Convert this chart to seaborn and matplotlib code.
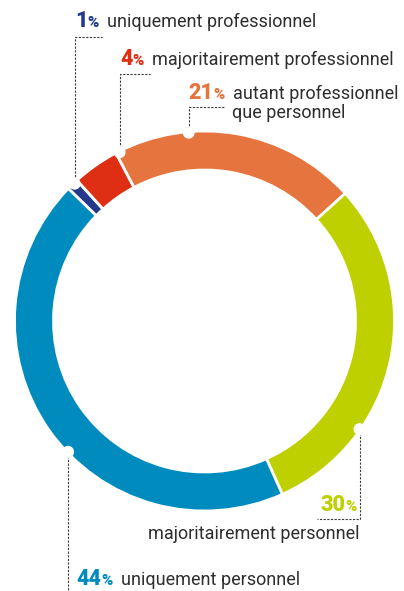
import matplotlib
matplotlib.use("Agg")
import matplotlib.pyplot as plt
import numpy as np
import seaborn as sns
from matplotlib.offsetbox import TextArea, HPacker, AnnotationBbox
from matplotlib.patches import Circle

# data
numbers = ["1", "4", "21", "30", "44"]
shares = [1, 4, 21, 30, 44]
labels = ["uniquement professionnel", "majoritairement professionnel",
          "autant professionnel", "majoritairement personnel",
          "uniquement personnel"]
colors = ["#233a8c", "#de2f14", "#e6743e", "#bfd000", "#008bbf"]

sns.set_theme(style="white")
plt.rcParams['font.family'] = ['Roboto', 'DejaVu Sans']
TXT = "#2e2e2e"
FS = 13

W, H = 404, 591
fig = plt.figure(figsize=(W / 100, H / 100), dpi=100)
ax = fig.add_axes([0, 0, 1, 1])

cx, cy, R, ring = 204.5, H - 321, 190, 39
wedges, _ = ax.pie(shares, colors=colors, startangle=135.8, counterclock=False,
                   radius=R, center=(cx, cy),
                   wedgeprops=dict(width=ring, edgecolor="white", linewidth=2))
ax.set_xlim(0, W)
ax.set_ylim(0, H)
ax.set_aspect("equal")
ax.axis("off")

# leader lines: anchor angle on the ring, vertical end (px from top), horizontal end x
anchor_deg = [133.4, 116.7, 94.8, -34.9, -136.2]
leader_y = [37, 74, 107, 519, 600]
leader_x = [102, 150, 225, 317, None]

for ang, ly, lx in zip(anchor_deg, leader_y, leader_x):
    px = cx + (R - 1) * np.cos(np.radians(ang))
    py = cy + (R - 1) * np.sin(np.radians(ang))
    xs = [px, px]
    ys = [py, H - ly]
    if lx is not None:
        xs.append(lx)
        ys.append(H - ly)
    ax.plot(xs, ys, color="#3a3a3a", lw=0.8, ls=(0, (2, 1.3)), zorder=3)
    ax.add_patch(Circle((px, py), 6, facecolor="white", edgecolor="none", zorder=4))


def label(i, x, y, align=0, text=True):
    num = TextArea(numbers[i], textprops=dict(color=colors[i], fontsize=15.5,
                                               fontweight="heavy"))
    pct = TextArea("%", textprops=dict(color=colors[i], fontsize=11,
                                        fontweight="heavy"))
    box = HPacker(children=[num, pct], align="baseline", pad=0, sep=0)
    if text:
        desc = TextArea(labels[i], textprops=dict(color=TXT, fontsize=FS))
        box = HPacker(children=[box, desc], align="baseline", pad=0, sep=6)
    ab = AnnotationBbox(box, (x, H - y), xycoords="data", box_alignment=(align, 0.5),
                        frameon=False, pad=0)
    ax.add_artist(ab)


label(0, 75, 21)
label(1, 120, 59)
label(2, 188, 93)
ax.text(232, H - 113, "que personnel", color=TXT, fontsize=FS, ha="left", va="center")
label(3, 357, 505, align=1, text=False)
ax.text(359, H - 534, labels[3], color=TXT, fontsize=FS, ha="right", va="center")
label(4, 76, 579)

fig.savefig("out.png", dpi=100)
